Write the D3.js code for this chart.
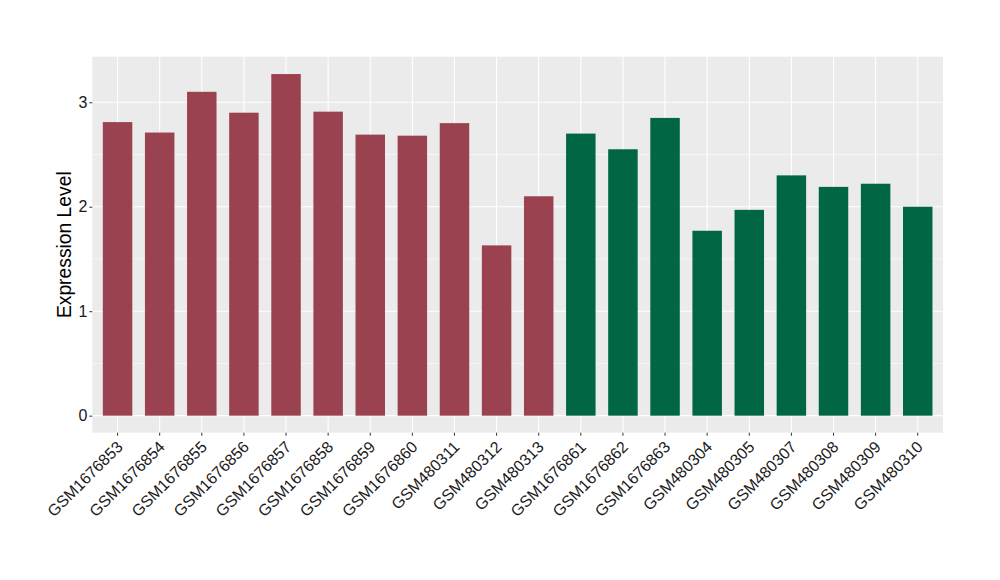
<!DOCTYPE html>
<html><head><meta charset="utf-8">
<script src="https://cdn.jsdelivr.net/npm/d3@7"></script>
<style>body{margin:0;background:#fff}svg{display:block}text{font-family:"Liberation Sans",Arial,sans-serif}</style>
</head><body>
<svg id="c" width="1000" height="580"></svg>
<script>
const samples = ["GSM1676853","GSM1676854","GSM1676855","GSM1676856","GSM1676857","GSM1676858","GSM1676859","GSM1676860","GSM480311","GSM480312","GSM480313","GSM1676861","GSM1676862","GSM1676863","GSM480304","GSM480305","GSM480307","GSM480308","GSM480309","GSM480310"];
const values = [2.81,2.71,3.10,2.90,3.27,2.91,2.69,2.68,2.80,1.63,2.10,2.70,2.55,2.85,1.77,1.97,2.30,2.19,2.22,2.00];
const groups = ["A","A","A","A","A","A","A","A","A","A","A","B","B","B","B","B","B","B","B","B"];
const groupColors = {A:"#9a4250", B:"#006644"};
const yTicks = [0,1,2,3];
const yMinor = [0.5,1.5,2.5];

const svg = d3.select("#c");
const P = {l:92.3, r:943, t:56.7, b:432.7};
const y = d3.scaleLinear().domain([-0.163,3.436]).range([P.b,P.t]);
const step = (P.r-P.l)/(samples.length+0.2);
const x = d3.scaleBand().domain(samples).range([P.l+0.1*step, P.r-0.1*step]).paddingInner(0.3).paddingOuter(0.15);

svg.append("rect").attr("x",P.l).attr("y",P.t).attr("width",P.r-P.l).attr("height",P.b-P.t).attr("fill","#ebebeb");
const g = svg.append("g");
g.selectAll(".mn").data(yMinor).join("line").attr("x1",P.l).attr("x2",P.r).attr("y1",d=>y(d)).attr("y2",d=>y(d)).attr("stroke","#fff").attr("stroke-width",0.55);
g.selectAll(".mj").data(yTicks).join("line").attr("x1",P.l).attr("x2",P.r).attr("y1",d=>y(d)).attr("y2",d=>y(d)).attr("stroke","#fff").attr("stroke-width",1.1);
g.selectAll(".vx").data(samples).join("line").attr("x1",d=>x(d)+x.bandwidth()/2).attr("x2",d=>x(d)+x.bandwidth()/2).attr("y1",P.t).attr("y2",P.b).attr("stroke","#fff").attr("stroke-width",1.1);

svg.selectAll(".bar").data(samples).join("rect")
  .attr("x",d=>x(d)).attr("width",x.bandwidth())
  .attr("y",(d,i)=>y(values[i])).attr("height",(d,i)=>y(0)-y(values[i]))
  .attr("fill",(d,i)=>groupColors[groups[i]]);

const ya = svg.append("g").attr("transform",`translate(${P.l},0)`)
  .call(d3.axisLeft(y).tickValues(yTicks).tickSize(3).tickPadding(2).tickFormat(d3.format("d")));
ya.select(".domain").remove();
ya.selectAll(".tick line").attr("stroke","#333");
ya.selectAll(".tick text").attr("fill","#1a1a1a").attr("font-family","Liberation Sans").attr("font-size",16);

const xa = svg.append("g").attr("transform",`translate(0,${P.b})`)
  .call(d3.axisBottom(x).tickSize(3).tickPadding(2));
xa.select(".domain").remove();
xa.selectAll(".tick line").attr("stroke","#333");
xa.selectAll(".tick text").attr("fill","#1a1a1a").attr("font-family","Liberation Sans").attr("font-size",16)
  .attr("text-anchor","end").attr("dy","0.72em").attr("y",0)
  .attr("transform","translate(-2,7) rotate(-45)");

svg.append("text").attr("transform",`translate(71,${(P.t+P.b)/2}) rotate(-90)`)
  .attr("text-anchor","middle").attr("font-size",19.3).attr("fill","#000").text("Expression Level");
</script>
</body></html>
